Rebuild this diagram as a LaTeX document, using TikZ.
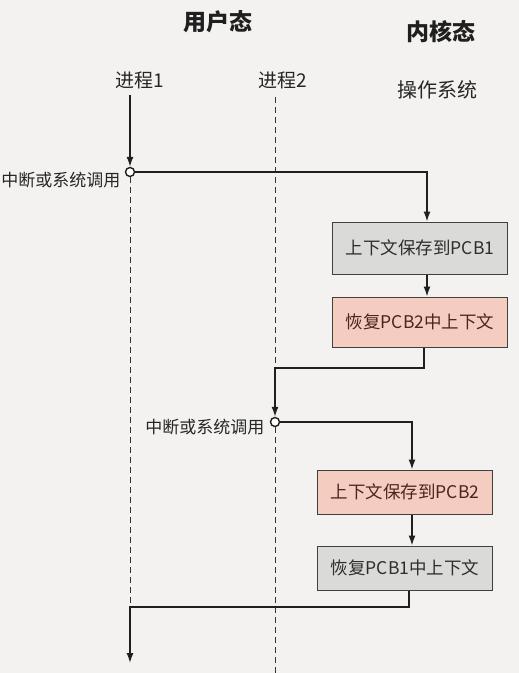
\documentclass[tikz,border=0pt]{standalone}
\usepackage{fontspec}
\setmainfont{Noto Sans CJK SC}
\usetikzlibrary{arrows.meta}
\definecolor{bg}{RGB}{243,242,240}
\definecolor{pinkfill}{RGB}{244,205,192}
\definecolor{pinktext}{RGB}{80,35,30}
\definecolor{grayfill}{RGB}{218,218,216}
\begin{document}
\begin{tikzpicture}[x=1pt,y=-1pt,
  line/.style={line width=1.4pt, draw=black!88},
  arr/.style={line, -{Latex[length=10pt,width=7pt]}},
  lifeline/.style={line width=1pt, dash pattern=on 6pt off 4pt, draw=black!80},
  box/.style={draw=black!75, line width=1pt, minimum width=175pt, inner sep=0pt, font=\fontsize{17.5}{19}\selectfont},
  graybox/.style={box, fill=grayfill, text=black!82},
  pinkbox/.style={box, fill=pinkfill, text=pinktext},
  junction/.style={circle, draw=black!88, line width=1.4pt, fill=white, minimum size=9pt, inner sep=0pt},
  lbl/.style={font=\fontsize{19}{21}\selectfont, text=black!85},
  small/.style={font=\fontsize{17}{19}\selectfont, text=black!85},
  title/.style={font=\bfseries\fontsize{23}{25}\selectfont, text=black!88},
]
\fill[bg] (0,0) rectangle (519,673);
\useasboundingbox (0,0) rectangle (519,673);

\node[title] (user) at (218,22) {用户态};
\node[title] (kernel) at (441,32) {内核态};
\node[lbl] (p1) at (140,80) {进程1};
\node[lbl] (p2) at (283,80) {进程2};
\node[lbl, font=\fontsize{20}{22}\selectfont] (os) at (437,90) {操作系统};

\coordinate (p1top) at (130,95);
\coordinate (p2top) at (275,97);
\coordinate (p2bot) at (275,673);
\coordinate (k2) at (275,368);
\coordinate (k4) at (130,607);
\coordinate (fin) at (130,663);

\node[junction] (c1) at (130,172) {};
\node[junction] (c2) at (275,422) {};

\node[graybox, minimum height=52pt] (b1) at (420,248) {上下文保存到PCB1};
\node[pinkbox, minimum height=50pt] (b2) at (420,322) {恢复PCB2中上下文};
\node[pinkbox, minimum height=44pt] (b3) at (405,492) {上下文保存到PCB2};
\node[graybox, minimum height=44pt] (b4) at (405,568) {恢复PCB1中上下文};

\node[small, anchor=east] (i1) at ([xshift=-1pt,yshift=-8pt]c1.west) {中断或系统调用};
\node[small, anchor=east] (i2) at ([xshift=-2pt,yshift=-5pt]c2.west) {中断或系统调用};

\draw[lifeline] (c1.south) -- (k4);
\draw[lifeline] (p2top) -- (c2.north);
\draw[lifeline] (c2.south) -- (p2bot);

\draw[arr] (p1top) -- (c1.north);
\draw[arr] (c1.east) -| ([xshift=7pt]b1.north);
\draw[arr] ([xshift=7pt]b1.south) -- ([xshift=7pt]b2.north);
\draw[arr] ([xshift=4pt]b2.south) |- (k2) -- (c2.north);
\draw[arr] (c2.east) -| ([xshift=7pt]b3.north);
\draw[arr] ([xshift=7pt]b3.south) -- ([xshift=7pt]b4.north);
\draw[arr] ([xshift=4pt]b4.south) |- (k4) -- (fin);
\end{tikzpicture}
\end{document}
